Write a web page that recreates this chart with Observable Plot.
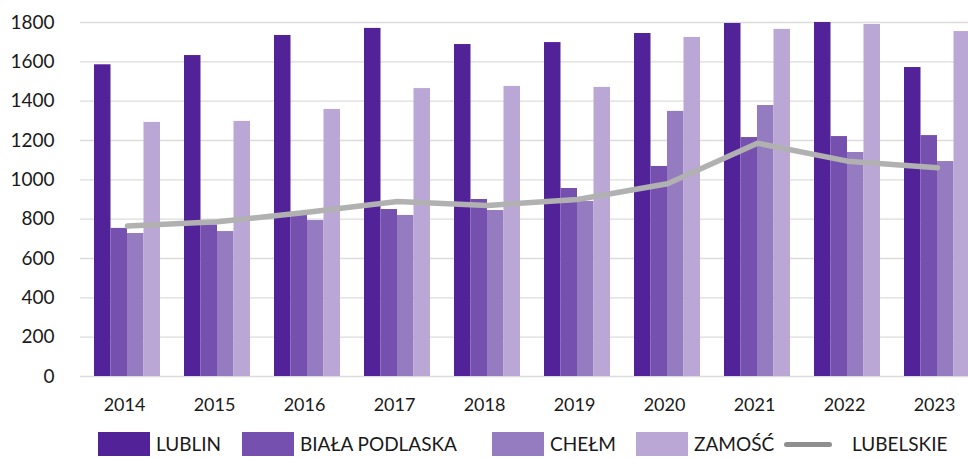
<!DOCTYPE html>
<html>
<head>
<meta charset="utf-8">
<script src="https://cdn.jsdelivr.net/npm/d3@7"></script>
<script src="https://cdn.jsdelivr.net/npm/@observablehq/plot@0.6"></script>
<style>
  html, body { margin: 0; padding: 0; background: #fff; }
  body { width: 968px; height: 458px; overflow: hidden; font-family: Lato, "Open Sans", sans-serif; }
  #legend { position: relative; height: 33px; width: 968px; }
  #legend .sw { position: absolute; top: 7px; width: 52px; height: 24px; }
  #legend .ln { position: absolute; top: 16.5px; width: 48px; height: 5px; border-radius: 3px; background: #8f8f8f; }
  #legend .lb { position: absolute; top: 6px; font-size: 19px; line-height: 26px; color: #1a1a1a; white-space: nowrap; }
</style>
</head>
<body>
<div id="chart"></div>
<div id="legend"></div>
<script>
const years = ["2014","2015","2016","2017","2018","2019","2020","2021","2022","2023"];
const cities = ["LUBLIN", "BIAŁA PODLASKA", "CHEŁM", "ZAMOŚĆ"];
const lublin        = [1585, 1632, 1734, 1770, 1688, 1698, 1744, 1795, 1800, 1571];
const bialaPodlaska = [753, 771, 819, 849, 900, 956, 1068, 1215, 1220, 1225];
const chelm         = [727, 737, 793, 819, 844, 890, 1348, 1378, 1139, 1093];
const zamosc        = [1292, 1297, 1358, 1464, 1475, 1470, 1724, 1765, 1790, 1754];
const lubelskie     = [765, 787, 835, 890, 870, 900, 980, 1186, 1095, 1061];
const yTicks = [0, 200, 400, 600, 800, 1000, 1200, 1400, 1600, 1800];
const colors = ["#522398", "#7550ae", "#957bbf", "#baa7d5"];
const lineColor = "#b1b1b1";

const series = [lublin, bialaPodlaska, chelm, zamosc];
const table = [];
cities.forEach((c, i) => years.forEach((y, j) => table.push({city: c, ci: i, year: y, value: series[i][j]})));
const lineData = years.map((y, j) => ({year: y, value: lubelskie[j]}));

const barW = 16.5;
const barMarks = cities.map((c, i) => Plot.barY(table.filter(d => d.city === c), {
  x: "year", y: "value", fill: colors[i],
  insetLeft: i * barW, insetRight: (3 - i) * barW
}));

const chart = Plot.plot({
  width: 968,
  height: 425,
  marginTop: 22,
  marginBottom: 49,
  marginLeft: 80,
  marginRight: 0,
  style: { fontFamily: "Lato, 'Open Sans', sans-serif", background: "#fff", overflow: "visible" },
  x: { domain: years, range: [80, 983.3], paddingInner: 0.27, paddingOuter: 0.135, label: null },
  y: { domain: [0, 1800], label: null },
  marks: [
    Plot.gridY(yTicks, { stroke: "#dcdcdc", strokeOpacity: 1, strokeWidth: 1.4 }),
    ...barMarks,
    Plot.lineY(lineData, { x: "year", y: "value", stroke: lineColor, strokeWidth: 5.5, strokeLinecap: "round", strokeLinejoin: "round" }),
    Plot.axisY({ ticks: yTicks, tickFormat: d => String(d), tickSize: 0, tickPadding: 26, fontSize: 19, fill: "#1a1a1a", label: null }),
    Plot.axisX({ tickSize: 0, tickPadding: 22, fontSize: 18, fill: "#1a1a1a", dx: -3, label: null })
  ]
});
document.getElementById("chart").appendChild(chart);

const legend = document.getElementById("legend");
const items = [
  { name: cities[0], x: 98, color: colors[0] },
  { name: cities[1], x: 242, color: colors[1] },
  { name: cities[2], x: 492, color: colors[2] },
  { name: cities[3], x: 636, color: colors[3] },
  { name: "LUBELSKIE", x: 784, line: true }
];
items.forEach(it => {
  const s = document.createElement("div");
  if (it.line) { s.className = "ln"; s.style.left = it.x + "px"; }
  else { s.className = "sw"; s.style.left = it.x + "px"; s.style.background = it.color; }
  legend.appendChild(s);
  const t = document.createElement("div");
  t.className = "lb";
  t.textContent = it.name;
  t.style.left = (it.line ? it.x + 68 : it.x + 58) + "px";
  legend.appendChild(t);
});
</script>
</body>
</html>
